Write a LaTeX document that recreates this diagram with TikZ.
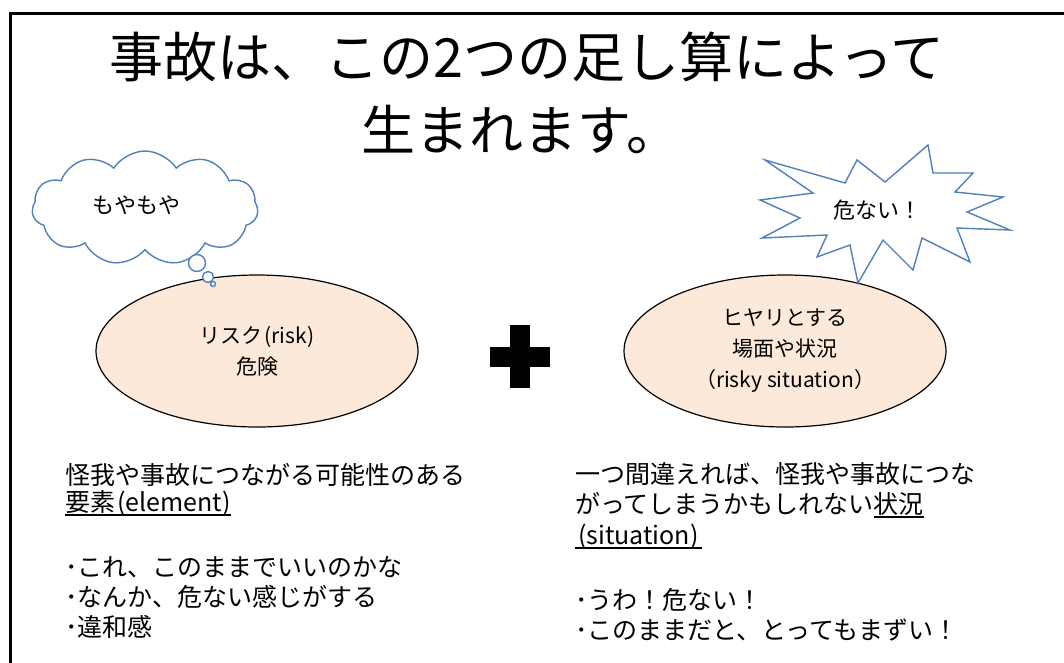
\documentclass[tikz,border=0pt]{standalone}
\usepackage{fontspec}
\setmainfont{Noto Sans CJK JP}
\usetikzlibrary{shapes.geometric,shapes.symbols}
\definecolor{peach}{HTML}{FDE9D9}
\definecolor{calloutblue}{HTML}{4F81BD}
\newcommand\myul[1]{\setbox0\hbox{#1}\rlap{\rule[-5pt]{\wd0}{2pt}}\box0}
\tikzset{
  titletext/.style={font=\fontsize{54}{60}\selectfont, inner sep=0pt, anchor=base},
  oval/.style={ellipse, draw=black, line width=1.2pt, fill=peach, minimum width=322pt, minimum height=152pt, inner sep=0pt, align=center, font=\fontsize{21}{31}\selectfont},
  callout/.style={draw=calloutblue, line width=1.4pt, fill=white},
  callouttext/.style={font=\fontsize{22}{26}\selectfont, inner sep=0pt},
  bodytext/.style={font=\fontsize{25}{30}\selectfont, inner sep=0pt, anchor=base west},
}
\begin{document}
\begin{tikzpicture}[x=1pt,y=-1pt]
\useasboundingbox (0,0) rectangle (1064,662);
\fill[white] (0,0) rectangle (1064,662);
\draw[line width=3pt] (10,680) -- (10,13.5) -- (1080,13.5);

% title
\node[titletext] (t1) at (527,77.5) {事故は、この2つの足し算によって};
\node[titletext] (t2) at (521,150) {生まれます。};

% ellipses
\node[oval] (risk) at (257,351) {リスク\kern2pt(risk)\\危険};
\node[oval] (sit) at (785,351) {ヒヤリとする\\場面や状況\\（risky situation）};

% plus sign
\fill (510,325) rectangle (530,388);
\fill (490,347) rectangle (550,367);

% thought cloud
\node[cloud, callout, cloud puffs=11, cloud puff arc=115, cloud ignores aspect, minimum width=226pt, minimum height=114pt, inner sep=0pt] (cloud) at (145,208) {};
\node[callouttext] (moya) at (136,205) {もやもや};
\draw[callout] (197,263) circle (8.5);
\draw[callout] (208,277) circle (5.5);
\draw[callout] (213,284) circle (2.5);

% starburst
\draw[callout, line join=miter]
  (765,160) -- (845,183) -- (857,160) -- (885,182) -- (928,145) -- (933,173)
  -- (973,173) -- (955,192) -- (1003,197) -- (967,212) -- (1010,230) -- (957,228)
  -- (970,262) -- (922,238) -- (913,270) -- (883,240) -- (858,283) -- (850,245)
  -- (817,257) -- (827,235) -- (762,238) -- (800,218) -- (760,200) -- (813,193) -- cycle;
\node[callouttext] (abunai) at (877,210) {危ない！};

% left text
\node[bodytext] (l1) at (65,484) {怪我や事故につながる可能性のある};
\node[bodytext] (l2) at (65,511) {\myul{要素\kern2pt(element)}};
\node[bodytext] (l3) at (65,576) {･これ、このままでいいのかな};
\node[bodytext] (l4) at (65,606) {･なんか、危ない感じがする};
\node[bodytext] (l5) at (65,636) {･違和感};

% right text
\node[bodytext] (r1) at (575,483) {一つ間違えれば、怪我や事故につな};
\node[bodytext] (r2) at (575,513) {がってしまうかもしれない\myul{状況}};
\node[bodytext] (r3) at (575,544) {\myul{\kern3pt(situation)\kern3pt}};
\node[bodytext] (r4) at (575,609) {･うわ！危ない！};
\node[bodytext] (r5) at (575,639) {･このままだと、とってもまずい！};
\end{tikzpicture}
\end{document}
